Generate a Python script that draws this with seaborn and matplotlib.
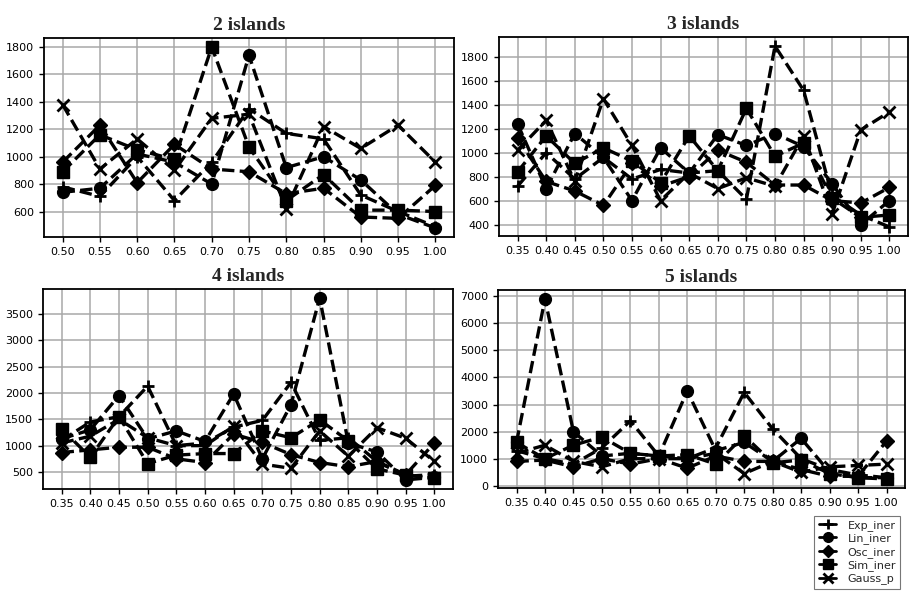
import matplotlib
matplotlib.use("Agg")
import matplotlib.pyplot as plt
from matplotlib.ticker import MultipleLocator
from matplotlib.lines import Line2D
import seaborn as sns

sns.set_theme(style="whitegrid")
plt.rcParams["font.family"] = ["DejaVu Sans"]

series_names = ["Exp_iner", "Lin_iner", "Osc_iner", "Sim_iner", "Gauss_p"]
series_markers = ["+", "o", "D", "s", "x"]

# 2 islands
x_2 = [0.50, 0.55, 0.60, 0.65, 0.70, 0.75, 0.80, 0.85, 0.90, 0.95, 1.00]
exp_2 = [780, 710, 1000, 680, 960, 1350, 1170, 1130, 720, 600, 490]
lin_2 = [740, 770, 1020, 960, 800, 1740, 920, 1000, 830, 580, 480]
osc_2 = [960, 1230, 810, 1090, 910, 890, 730, 770, 560, 550, 790]
sim_2 = [890, 1160, 1050, 980, 1800, 1070, 680, 870, 610, 610, 600]
gau_2 = [1380, 910, 1130, 900, 1280, 1310, 620, 1220, 1060, 1230, 960]

# 3 islands
x_3 = [0.35, 0.40, 0.45, 0.50, 0.55, 0.60, 0.65, 0.70, 0.75, 0.80, 0.85, 0.90, 0.95, 1.00]
exp_3 = [720, 1000, 780, 960, 780, 860, 830, 850, 610, 1890, 1520, 640, 480, 380]
lin_3 = [1240, 700, 1160, 960, 600, 1040, 830, 1150, 1060, 1160, 1050, 740, 400, 600]
osc_3 = [1120, 760, 680, 560, 910, 720, 800, 1020, 920, 730, 730, 600, 580, 710]
sim_3 = [840, 1140, 910, 1040, 930, 750, 1140, 850, 1370, 970, 1080, 620, 460, 480]
gau_3 = [1020, 1270, 760, 1450, 1060, 600, 830, 700, 790, 720, 1140, 490, 1190, 1340]

# 4 islands
x_4 = [0.35, 0.40, 0.45, 0.50, 0.55, 0.60, 0.65, 0.70, 0.75, 0.80, 0.85, 0.90, 0.95, 1.00]
exp_4 = [1100, 1450, 1550, 2130, 1000, 1050, 1350, 1480, 2200, 1100, 1150, 700, 420, 450]
lin_4 = [1130, 1300, 1950, 1130, 1280, 1080, 1980, 750, 1780, 3800, 1050, 880, 350, 400]
osc_4 = [870, 920, 970, 970, 750, 680, 1220, 1060, 830, 680, 600, 700, 450, 1050]
sim_4 = [1320, 780, 1550, 660, 820, 850, 850, 1280, 1150, 1490, 1090, 560, 440, 380]
gau_4 = [1050, 1180, 1500, 1150, 1000, 1000, 1370, 650, 570, 1280, 800, 1340, 1140, 700]

# 5 islands
x_5 = [0.35, 0.40, 0.45, 0.50, 0.55, 0.60, 0.65, 0.70, 0.75, 0.80, 0.85, 0.90, 0.95, 1.00]
exp_5 = [1300, 1000, 800, 1400, 2400, 1100, 1000, 1400, 3450, 2100, 1000, 600, 400, 300]
lin_5 = [1600, 6900, 2000, 1100, 1200, 1100, 3500, 1300, 1600, 900, 1750, 500, 300, 300]
osc_5 = [900, 950, 700, 1000, 800, 1000, 650, 1100, 900, 900, 600, 350, 350, 1650]
sim_5 = [1600, 1000, 1500, 1800, 1200, 1100, 1150, 800, 1850, 850, 950, 450, 300, 250]
gau_5 = [1200, 1500, 900, 700, 1000, 1000, 1000, 1200, 450, 900, 500, 700, 750, 800]

panels = [
    ("2 islands", x_2, [exp_2, lin_2, osc_2, sim_2, gau_2], 200),
    ("3 islands", x_3, [exp_3, lin_3, osc_3, sim_3, gau_3], 200),
    ("4 islands", x_4, [exp_4, lin_4, osc_4, sim_4, gau_4], 500),
    ("5 islands", x_5, [exp_5, lin_5, osc_5, sim_5, gau_5], 1000),
]

# axes rectangles in pixels: left, top, right, bottom
W, H = 910, 592
rects = [(44, 38, 454, 237), (499, 37, 908, 236),
         (43, 289, 453, 489), (498, 290, 905, 488)]

fig = plt.figure(figsize=(W / 100, H / 100), dpi=100)
fig.patch.set_facecolor("white")

for (title, xs, ys, step), (l, t, r, b) in zip(panels, rects):
    ax = fig.add_axes([l / W, 1 - b / H, (r - l) / W, (b - t) / H])
    ax.set_facecolor("white")
    for name, mk, vals in zip(series_names, series_markers, ys):
        sns.lineplot(x=xs, y=vals, ax=ax, color="black", linestyle="--",
                     linewidth=2.4, marker=mk, markersize=8.5 if mk != "D" else 7.5,
                     markeredgecolor="black", markerfacecolor="black",
                     markeredgewidth=2 if mk in "+x" else 1, label=name,
                     legend=False)
    ax.set_xticks(xs)
    ax.set_xticklabels([f"{v:.2f}" for v in xs])
    ax.yaxis.set_major_locator(MultipleLocator(step))
    ax.tick_params(axis="both", labelsize=8, length=3.5, width=1,
                   colors="black", direction="out", bottom=True, left=True)
    ax.grid(True, color="#a8a8a8", linewidth=1.1)
    for s in ax.spines.values():
        s.set_color("black")
        s.set_linewidth(1.3)
    ax.set_title(title, fontsize=14, fontweight="bold",
                 family=["Liberation Serif", "DejaVu Serif"], pad=6)

handles = [Line2D([], [], color="black", linestyle="-", linewidth=2,
                  marker=mk, markersize=7 if mk != "D" else 6,
                  markeredgecolor="black", markerfacecolor="black",
                  markeredgewidth=2 if mk in "+x" else 1)
           for mk in series_markers]
leg = fig.legend(handles, series_names, loc="upper right",
                 bbox_to_anchor=(906 / W, 1 - 510 / H), fontsize=8,
                 handlelength=1.6, handletextpad=1.0, labelspacing=0.22,
                 borderpad=0.4, frameon=True, fancybox=False)
leg.get_frame().set_edgecolor("#555555")
leg.get_frame().set_linewidth(0.8)

fig.savefig("out.png", dpi=100, facecolor="white")
